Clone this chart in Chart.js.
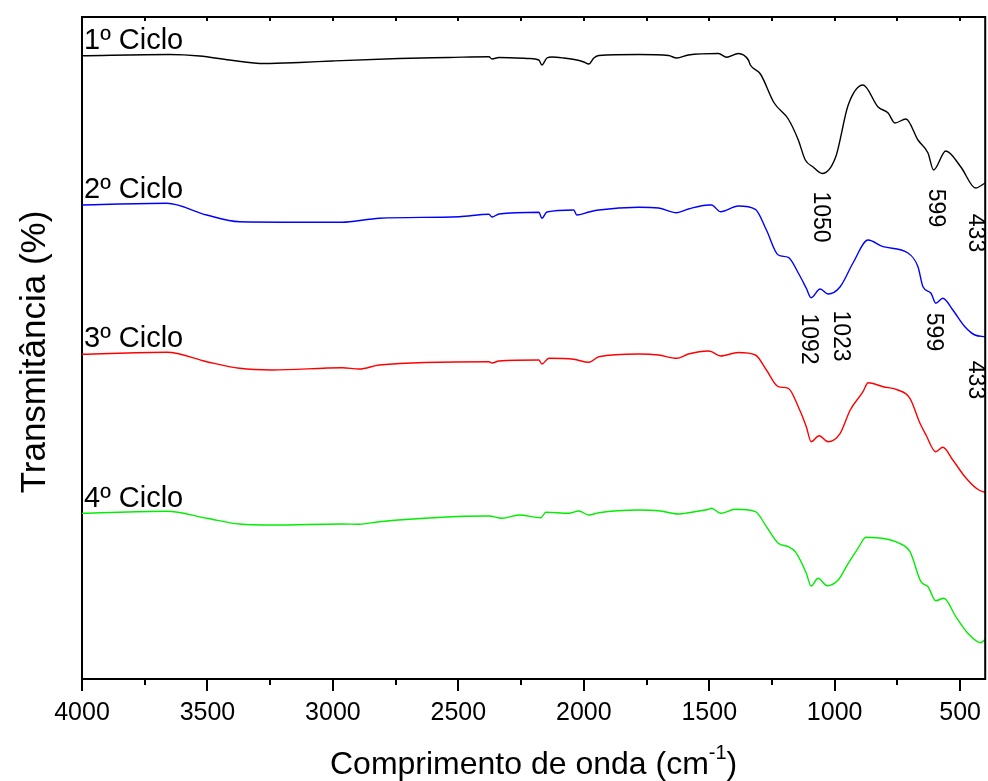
<!DOCTYPE html>
<html lang="pt">
<head>
<meta charset="UTF-8">
<title>FTIR - Ciclos</title>
<style>
  body { margin: 0; background: #fff; }
  #wrap { width: 988px; height: 781px; }
</style>
<script src="https://cdn.jsdelivr.net/npm/chart.js"></script>
</head>
<body>
<div id="wrap"><canvas id="ftir" width="988" height="781"></canvas></div>
<script>
// wavenumber (cm-1) and relative transmittance (a.u., curves are offset)
const wn1 = [4000, 3650, 3531, 3412, 3272, 3133, 3002, 2736, 2537, 2378, 2366, 2338, 2219, 2179, 2167, 2147, 2127, 2080, 2028, 2000, 1980, 1960, 1940, 1781, 1662, 1630, 1583, 1463, 1431, 1384, 1344, 1336, 1296, 1241, 1185, 1145, 1117, 1086, 1050, 996, 946, 887, 827, 787, 760, 716, 668, 628, 606, 557, 497, 438, 400];
const t1 = [623.3, 624.5, 623, 619, 615.5, 616.5, 618, 620.5, 621.5, 622.3, 620, 621.5, 620.5, 619, 614, 621, 622, 621, 619, 617, 615, 621, 623.5, 624.5, 623.5, 621, 624, 625.5, 621.7, 625.5, 619, 614, 605, 576, 560, 539, 519, 512, 505.5, 522, 574, 594, 572, 566, 556, 560, 539, 526, 509, 528, 512, 491, 496];

const wn2 = [4000, 3662, 3503, 3372, 2962, 2855, 2815, 2497, 2378, 2366, 2338, 2179, 2167, 2147, 2040, 2028, 1980, 1940, 1781, 1702, 1630, 1583, 1503, 1491, 1455, 1384, 1316, 1272, 1225, 1185, 1145, 1113, 1094, 1058, 1026, 978, 927, 867, 807, 708, 668, 648, 616, 597, 569, 529, 481, 441, 400];
const t2 = [474, 475.7, 464, 457.3, 456.7, 459.7, 460.7, 462.3, 464.7, 462, 465, 466.7, 460.7, 467, 469, 464, 467, 469, 471.7, 471, 466.3, 470, 474, 474, 467.3, 473, 469.7, 449, 424, 421.7, 406, 390.7, 381.3, 390, 385, 392.3, 416, 439, 432.3, 426, 412.3, 392.3, 385.7, 375.7, 380.7, 369, 352.3, 344, 342.3];

const wn3 = [4000, 3662, 3503, 3372, 3241, 2962, 2895, 2815, 2378, 2366, 2338, 2179, 2167, 2139, 2040, 1980, 1940, 1781, 1702, 1630, 1583, 1503, 1491, 1455, 1384, 1316, 1272, 1225, 1185, 1145, 1113, 1094, 1062, 1026, 978, 938, 887, 867, 807, 748, 700, 660, 636, 597, 569, 529, 481, 430, 400];
const t3 = [324.7, 326.7, 317.3, 310.7, 309, 311.3, 310, 314, 317.3, 316, 318, 319, 315, 320.7, 319.7, 316.7, 322.3, 325, 324, 320.7, 325, 328, 327.3, 323, 326.5, 324, 309, 292.3, 290.7, 272.3, 252.3, 237.3, 243.3, 237.3, 245.7, 269, 287.3, 296.3, 292.3, 289, 280.7, 255.7, 244, 227.3, 231.7, 219, 202.3, 189.7, 186.3];

const wn4 = [4000, 3662, 3503, 3372, 3241, 2962, 2895, 2815, 2378, 2326, 2258, 2171, 2151, 2060, 2020, 1980, 1940, 1781, 1702, 1622, 1583, 1503, 1491, 1455, 1396, 1316, 1272, 1225, 1185, 1157, 1113, 1094, 1066, 1030, 986, 946, 907, 875, 795, 748, 700, 656, 628, 597, 565, 517, 469, 418, 400];
const t4 = [165.7, 167.7, 160.7, 155, 154, 155, 154.7, 157.3, 163, 160.7, 164, 161.3, 166.7, 165.7, 168, 164, 166.3, 169, 168.3, 165, 166.3, 169.7, 170.7, 165.7, 169.7, 167.3, 152.3, 135.7, 132.3, 127.3, 105.7, 93, 100.7, 93.3, 99, 115.7, 130.7, 141.7, 140, 136.3, 127.3, 97.3, 92.3, 78.3, 80.7, 62.3, 45.7, 36.3, 39.7];

const cycleNames = ['1º Ciclo', '2º Ciclo', '3º Ciclo', '4º Ciclo'];
const cycleColors = ['#000000', '#0000ff', '#ff0000', '#00ee00'];
const cycleLabelY = [630, 481, 332, 172];

const xTicks = [4000, 3500, 3000, 2500, 2000, 1500, 1000, 500];

// band labels: text, x position (cm-1), y position (a.u.)
const bandText = ['1050', '599', '433', '1092', '1023', '599', '433'];
const bandX = [1058, 600, 441, 1106, 978, 608, 441];
const bandY = [462, 471, 446, 340, 343, 347, 299];

const series = [[wn1, t1], [wn2, t2], [wn3, t3], [wn4, t4]];

const FONT = 'Arial, "Liberation Sans", sans-serif';

const decor = {
  id: 'decor',
  afterDraw(chart) {
    const ctx = chart.ctx;
    const a = chart.chartArea;
    const xs = chart.scales.x, ys = chart.scales.y;
    ctx.save();
    ctx.strokeStyle = '#000';
    ctx.lineWidth = 2;
    // top and right frame
    ctx.beginPath();
    ctx.moveTo(a.left - 1, a.top);
    ctx.lineTo(a.right, a.top);
    ctx.lineTo(a.right, a.bottom + 1);
    ctx.stroke();
    // minor ticks bottom, small ticks on top
    for (let v = 3750; v > 400; v -= 250) {
      const px = Math.round(xs.getPixelForValue(v));
      ctx.beginPath();
      ctx.moveTo(px, a.top);
      ctx.lineTo(px, a.top + 4);
      ctx.stroke();
      if (v % 500 !== 0) {
        ctx.beginPath();
        ctx.moveTo(px, a.bottom);
        ctx.lineTo(px, a.bottom + 6);
        ctx.stroke();
      }
    }
    ctx.fillStyle = '#000';
    // cycle labels
    ctx.font = '29px ' + FONT;
    ctx.textAlign = 'left';
    ctx.textBaseline = 'alphabetic';
    cycleNames.forEach((n, i) => {
      ctx.fillText(n, a.left + 2, ys.getPixelForValue(cycleLabelY[i]));
    });
    // band labels, rotated
    ctx.font = '23px ' + FONT;
    ctx.textAlign = 'center';
    ctx.textBaseline = 'middle';
    bandText.forEach((t, i) => {
      ctx.save();
      ctx.translate(xs.getPixelForValue(bandX[i]), ys.getPixelForValue(bandY[i]));
      ctx.rotate(Math.PI / 2);
      ctx.fillText(t, 0, 0);
      ctx.restore();
    });
    // y title
    ctx.save();
    ctx.font = '35px ' + FONT;
    ctx.translate(35, 352);
    ctx.rotate(-Math.PI / 2);
    ctx.fillText('Transmitância (%)', 0, 0);
    ctx.restore();
    // x title with superscript
    ctx.font = '32px ' + FONT;
    ctx.textAlign = 'left';
    ctx.textBaseline = 'alphabetic';
    const main = 'Comprimento de onda (cm';
    const sup = '-1';
    const wMain = ctx.measureText(main).width;
    const wClose = ctx.measureText(')').width;
    ctx.font = '20px ' + FONT;
    const wSup = ctx.measureText(sup).width;
    const total = wMain + wSup + wClose;
    const x0 = (a.left + a.right) / 2 - total / 2;
    const base = 774;
    ctx.font = '32px ' + FONT;
    ctx.fillText(main, x0, base);
    ctx.font = '20px ' + FONT;
    ctx.fillText(sup, x0 + wMain, base - 15);
    ctx.font = '32px ' + FONT;
    ctx.fillText(')', x0 + wMain + wSup, base);
    ctx.restore();
  }
};

new Chart(document.getElementById('ftir'), {
  type: 'line',
  data: {
    datasets: series.map((s, i) => ({
      label: cycleNames[i],
      data: s[0].map((w, k) => ({ x: w, y: s[1][k] })),
      borderColor: cycleColors[i],
      borderWidth: 1.4,
      pointRadius: 0,
      fill: false,
      cubicInterpolationMode: 'monotone'
    }))
  },
  options: {
    responsive: false,
    animation: false,
    layout: { padding: { top: 17, right: 1, left: 0, bottom: 0 } },
    plugins: { legend: { display: false }, tooltip: { enabled: false } },
    scales: {
      x: {
        type: 'linear',
        reverse: true,
        min: 400,
        max: 4000,
        afterBuildTicks: (scale) => { scale.ticks = xTicks.map(v => ({ value: v })); },
        afterFit: (scale) => { scale.height = 102; },
        grid: { display: true, drawOnChartArea: false, drawTicks: true, tickLength: 12, color: '#000', lineWidth: 2 },
        border: { display: true, color: '#000', width: 2 },
        ticks: { font: { size: 25, family: FONT }, color: '#000', padding: 7, maxRotation: 0, autoSkip: false, callback: (v) => String(v) }
      },
      y: {
        min: 0,
        max: 662,
        afterFit: (scale) => { scale.width = 82; },
        grid: { display: false },
        border: { display: true, color: '#000', width: 2 },
        ticks: { display: false }
      }
    }
  },
  plugins: [decor]
});
</script>
</body>
</html>
